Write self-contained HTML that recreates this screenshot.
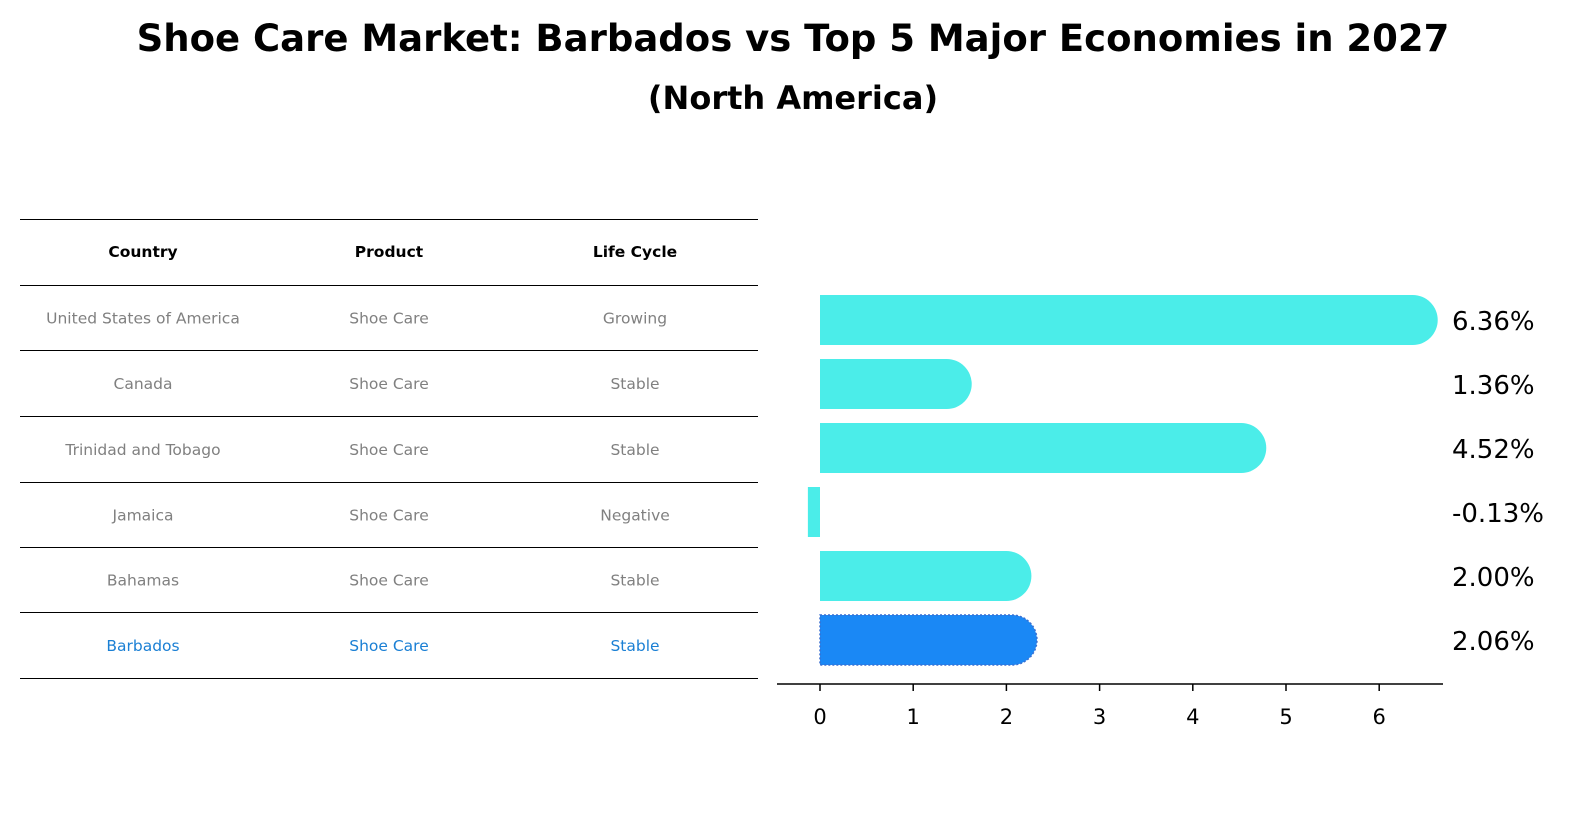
<!DOCTYPE html>
<html><head><meta charset="utf-8"><style>
body{margin:0;background:#fff;font-family:"Liberation Sans","DejaVu Sans",sans-serif;}
svg text{font-family:"DejaVu Sans","Liberation Sans",sans-serif;}
</style></head><body>
<svg width="1596" height="823" viewBox="0 0 1596 823" xmlns="http://www.w3.org/2000/svg">
<text x="793" y="51" text-anchor="middle" font-size="37" font-weight="bold">Shoe Care Market: Barbados vs Top 5 Major Economies in 2027</text>
<text x="793" y="109" text-anchor="middle" font-size="32" font-weight="bold">(North America)</text>
<g id="table"></g>
<g id="bars"></g>
<g id="axis"></g>
</svg>
<script>
const countries=["United States of America","Canada","Trinidad and Tobago","Jamaica","Bahamas","Barbados"];
const products=["Shoe Care","Shoe Care","Shoe Care","Shoe Care","Shoe Care","Shoe Care"];
const lifeCycles=["Growing","Stable","Stable","Negative","Stable","Stable"];
const values=[6.36,1.36,4.52,-0.13,2.00,2.06];
const ticks=[0,1,2,3,4,5,6];
const NS="http://www.w3.org/2000/svg";
function mk(t,a,p){const e=document.createElementNS(NS,t);for(const k in a)e.setAttribute(k,a[k]);p.appendChild(e);return e;}
const x=v=>820+v*93.2;
const rowY=i=>320+i*64;
const tbl=document.getElementById('table');
const lines=[219,285,350,416,482,547,612,678];
lines.forEach(y=>{const l=mk('line',{x1:20,x2:758,y1:y+0.5,y2:y+0.5,stroke:'#000','stroke-width':1},tbl);

});
const colX=[143,389,635];
["Country","Product","Life Cycle"].forEach((h,j)=>{const t=mk('text',{x:colX[j],y:257,'text-anchor':'middle','font-size':15.5,'font-weight':'bold'},tbl);t.textContent=h;

});
countries.forEach((c,i)=>{const y=(lines[i+1]+lines[i+2])/2+6;const col=i==countries.length-1?'#1a7fd4':'#808080';
[c,products[i],lifeCycles[i]].forEach((s,j)=>{const t=mk('text',{x:colX[j],y:y,'text-anchor':'middle','font-size':15.5,fill:col},tbl);t.textContent=s;

});});
const bars=document.getElementById('bars');
values.forEach((v,i)=>{const last=i==values.length-1;const col=last?'#1a88f5':'#4bede9';const cy=rowY(i);const r=25;
let d;
if(v>=0){const x0=x(0),x1=x(v);d=`M${x0},${cy-r}H${x1}A${r},${r} 0 0 1 ${x1},${cy+r}H${x0}Z`;}
else{d=`M${x(v)},${cy-r}H${x(0)}V${cy+r}H${x(v)}Z`;}
const p=mk('path',{d:d,fill:col},bars);
if(last){p.setAttribute('stroke','#3a6fd0');p.setAttribute('stroke-dasharray','2 2');p.setAttribute('stroke-width','1.5');}


const t=mk('text',{x:1452,y:cy+10,'font-size':26},bars);t.textContent=v.toFixed(2)+'%';

});
const ax=document.getElementById('axis');
const al=mk('line',{x1:777,x2:1443,y1:684,y2:684,stroke:'#000','stroke-width':1.5},ax);


ticks.forEach(v=>{const tl=mk('line',{x1:x(v),x2:x(v),y1:684,y2:691,stroke:'#000','stroke-width':1.5},ax);


const t=mk('text',{x:x(v),y:724,'text-anchor':'middle','font-size':21},ax);t.textContent=v;

});
</script>
</body></html>
